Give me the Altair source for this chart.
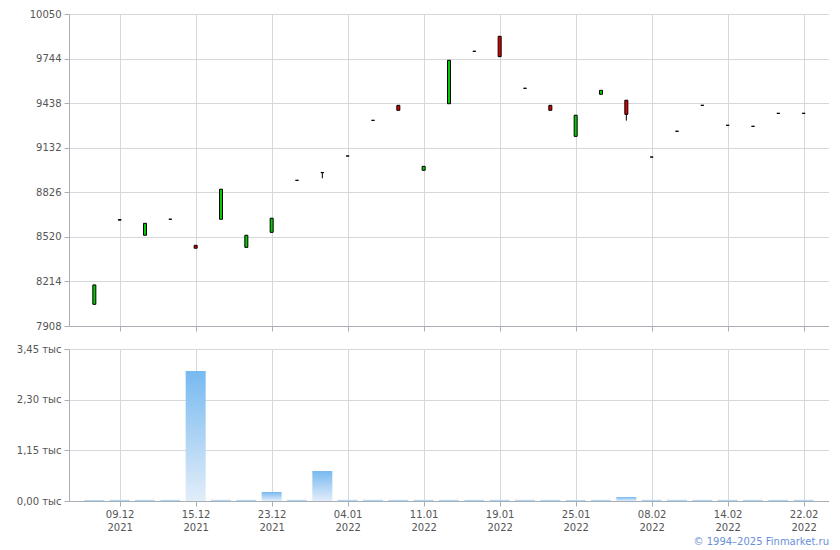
import altair as alt
import pandas as pd

dates = [
    "08.12.2021", "09.12.2021", "10.12.2021", "13.12.2021", "15.12.2021",
    "16.12.2021", "20.12.2021", "23.12.2021", "27.12.2021", "29.12.2021",
    "04.01.2022", "05.01.2022", "10.01.2022", "11.01.2022", "13.01.2022",
    "17.01.2022", "19.01.2022", "20.01.2022", "24.01.2022", "25.01.2022",
    "27.01.2022", "01.02.2022", "08.02.2022", "09.02.2022", "10.02.2022",
    "14.02.2022", "16.02.2022", "18.02.2022", "22.02.2022",
]
opens = [8057, 8635, 8531, 8641, 8462, 8641, 8448, 8551, 8908, 8961,
         9075, 9320, 9423, 8977, 9434, 9794, 9897, 9540, 9423, 9210,
         9499, 9458, 9068, 9245, 9423, 9286, 9279, 9368, 9368]
closes = [8190, 8638, 8613, 8641, 8442, 8847, 8531, 8648, 8908, 8961,
          9075, 9320, 9389, 9004, 9732, 9794, 9757, 9540, 9389, 9355,
          9526, 9361, 9068, 9245, 9423, 9286, 9279, 9368, 9368]
highs = [8190, 8638, 8613, 8641, 8462, 8847, 8531, 8648, 8908, 8961,
         9075, 9320, 9423, 9004, 9732, 9794, 9897, 9540, 9423, 9355,
         9526, 9458, 9068, 9245, 9423, 9286, 9279, 9368, 9368]
lows = [8057, 8635, 8531, 8641, 8442, 8641, 8448, 8551, 8908, 8922,
        9075, 9320, 9389, 8977, 9434, 9794, 9757, 9540, 9389, 9210,
        9499, 9318, 9068, 9245, 9423, 9286, 9279, 9368, 9368]
volumes = [25, 25, 25, 25, 2951, 25, 25, 204, 25, 681,
           25, 25, 25, 25, 25, 25, 25, 25, 25, 25,
           25, 91, 25, 25, 25, 25, 25, 25, 25]
price_ticks = [7908, 8214, 8520, 8826, 9132, 9438, 9744, 10050]
volume_ticks = [0, 1150, 2300, 3450]
tick_dates = [dates[i] for i in range(1, len(dates), 3)]

df = pd.DataFrame({
    "date": dates, "open": opens, "close": closes,
    "high": highs, "low": lows, "volume": volumes,
})
df["dir"] = ["up" if c > o else ("down" if c < o else "flat") for o, c in zip(opens, closes)]

GRID = "#d4d7db"
AXIS = "#a9adb4"
LABEL = "#555555"

xscale = alt.Scale(type="point", padding=1)

x_top = alt.X("date:O", sort=None, scale=xscale,
              axis=alt.Axis(values=tick_dates, labels=False, title=None))
x_bot = alt.X("date:O", sort=None, scale=xscale,
              axis=alt.Axis(values=tick_dates, title=None, labelAngle=0,
                            labelExpr="[slice(datum.value, 0, 5), slice(datum.value, 6)]",
                            labelLineHeight=13))

yscale = alt.Scale(domain=[7908, 10050], nice=False, zero=False)

wicks = alt.Chart(df).mark_rule(color="black", strokeWidth=1).encode(
    x=x_top,
    y=alt.Y("low:Q", scale=yscale, axis=alt.Axis(values=price_ticks, format="d", title=None)),
    y2="high:Q",
)
bodies = alt.Chart(df).mark_bar(size=3, stroke="black", strokeWidth=1).encode(
    x=x_top,
    y=alt.Y("open:Q", scale=yscale),
    y2="close:Q",
    color=alt.Color("dir:N", legend=None,
                    scale=alt.Scale(domain=["up", "down", "flat"],
                                    range=["#00cc00", "#e00000", "#000000"])),
)
top = alt.layer(wicks, bodies).properties(width=760, height=312)

grad = alt.Gradient(
    gradient="linear",
    stops=[alt.GradientStop(color="#e2edf9", offset=0),
           alt.GradientStop(color="#77b9f0", offset=1)],
    x1=0, x2=0, y1=1, y2=0,
)
bottom = alt.Chart(df).mark_bar(size=20, color=grad).encode(
    x=x_bot,
    y=alt.Y("volume:Q", scale=alt.Scale(domain=[0, 3450], nice=False),
            axis=alt.Axis(values=volume_ticks, title=None,
                          labelExpr="replace(format(datum.value / 1000, '.2f'), '.', ',') + ' тыс'")),
).properties(
    width=760, height=152,
    title=alt.TitleParams("© 1994–2025 Finmarket.ru", orient="bottom", anchor="end",
                          fontSize=10, font="DejaVu Sans", fontWeight="normal",
                          color="#6b8fd8", offset=5),
)

chart = alt.vconcat(top, bottom, spacing=12).properties(
    padding={"top": 1, "left": 8, "right": 0, "bottom": 0},
).configure_view(stroke=None).configure_axis(
    domainColor=AXIS, tickColor=AXIS, gridColor=GRID, gridWidth=1,
    labelColor=LABEL, labelFont="DejaVu Sans", labelFontSize=10,
    tickSize=5, labelPadding=3, domainWidth=1,
).configure_axisX(grid=True).configure_axisY(grid=True)

chart.save("out.html", embed_options={"renderer": "svg", "actions": False})
